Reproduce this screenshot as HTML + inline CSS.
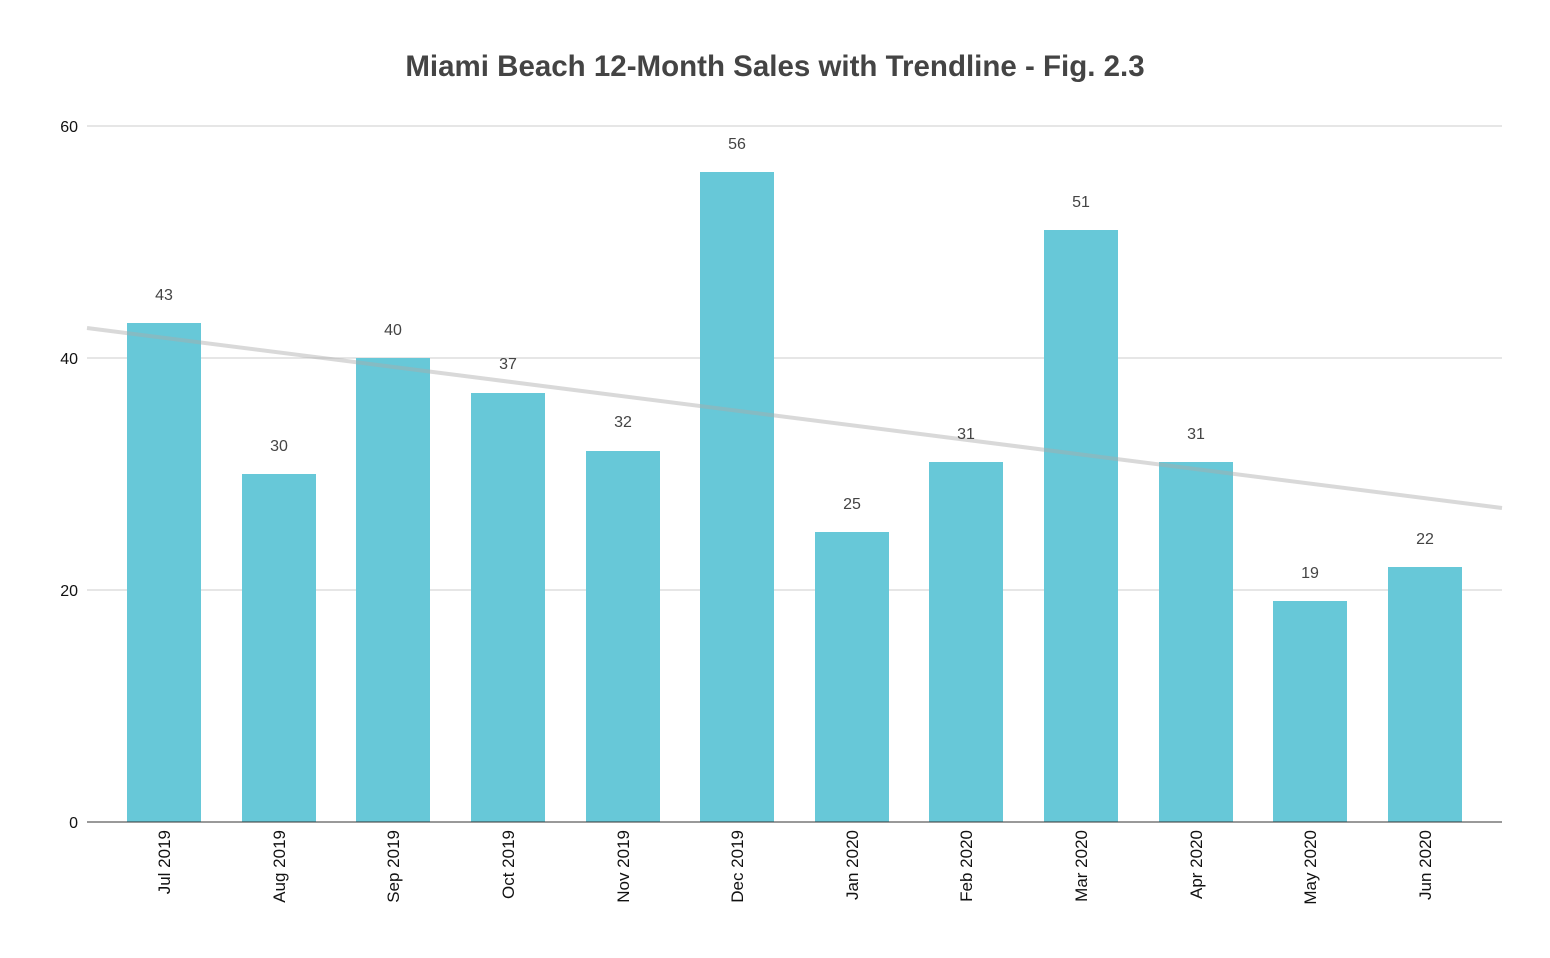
<!DOCTYPE html>
<html><head><meta charset="utf-8"><style>
html,body{margin:0;padding:0;background:#fff;}
svg{display:block;font-family:"Liberation Sans",Arial,sans-serif;}
</style></head><body>
<svg width="1550" height="958" viewBox="0 0 1550 958" xmlns="http://www.w3.org/2000/svg">
<rect width="1550" height="958" fill="#fff"/>
<text x="775" y="76" text-anchor="middle" font-size="29.5" font-weight="bold" fill="#444">Miami Beach 12-Month Sales with Trendline - Fig. 2.3</text>
<g stroke="#ccc" stroke-width="1">
<line x1="87" y1="126" x2="1502" y2="126"/>
<line x1="87" y1="358" x2="1502" y2="358"/>
<line x1="87" y1="590" x2="1502" y2="590"/>
</g>
<g font-size="16" fill="#111" text-anchor="end">
<text x="78" y="132">60</text>
<text x="78" y="364">40</text>
<text x="78" y="596">20</text>
<text x="78" y="828">0</text>
</g>
<g fill="#67c8d8">
<rect x="127" y="323" width="74" height="499"/>
<rect x="242" y="474" width="74" height="348"/>
<rect x="356" y="358" width="74" height="464"/>
<rect x="471" y="393" width="74" height="429"/>
<rect x="586" y="451" width="74" height="371"/>
<rect x="700" y="172" width="74" height="650"/>
<rect x="815" y="532" width="74" height="290"/>
<rect x="929" y="462" width="74" height="360"/>
<rect x="1044" y="230" width="74" height="592"/>
<rect x="1159" y="462" width="74" height="360"/>
<rect x="1273" y="601" width="74" height="221"/>
<rect x="1388" y="567" width="74" height="255"/>
</g>
<line x1="87" y1="328" x2="1502" y2="508" stroke="#aaa" stroke-opacity="0.45" stroke-width="4"/>
<line x1="87" y1="822" x2="1502" y2="822" stroke="#333" stroke-width="1"/>
<g font-size="16" fill="#444" text-anchor="middle">
<text x="164" y="300">43</text>
<text x="279" y="451">30</text>
<text x="393" y="335">40</text>
<text x="508" y="369">37</text>
<text x="623" y="427">32</text>
<text x="737" y="149">56</text>
<text x="852" y="509">25</text>
<text x="966" y="439">31</text>
<text x="1081" y="207">51</text>
<text x="1196" y="439">31</text>
<text x="1310" y="578">19</text>
<text x="1425" y="544">22</text>
</g>
<g font-size="17" fill="#111" text-anchor="end">
<text transform="translate(170,830) rotate(-90)">Jul 2019</text>
<text transform="translate(285,830) rotate(-90)">Aug 2019</text>
<text transform="translate(399,830) rotate(-90)">Sep 2019</text>
<text transform="translate(514,830) rotate(-90)">Oct 2019</text>
<text transform="translate(629,830) rotate(-90)">Nov 2019</text>
<text transform="translate(743,830) rotate(-90)">Dec 2019</text>
<text transform="translate(858,830) rotate(-90)">Jan 2020</text>
<text transform="translate(972,830) rotate(-90)">Feb 2020</text>
<text transform="translate(1087,830) rotate(-90)">Mar 2020</text>
<text transform="translate(1202,830) rotate(-90)">Apr 2020</text>
<text transform="translate(1316,830) rotate(-90)">May 2020</text>
<text transform="translate(1431,830) rotate(-90)">Jun 2020</text>
</g>
</svg>
</body></html>
